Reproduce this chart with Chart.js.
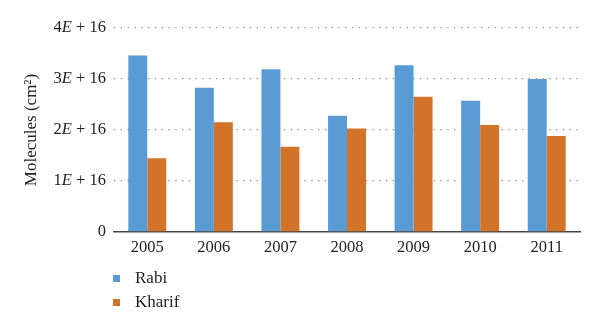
<!DOCTYPE html>
<html>
<head>
<meta charset="utf-8">
<script src="https://cdn.jsdelivr.net/npm/chart.js@4/dist/chart.umd.min.js"></script>
<style>
  html, body { margin: 0; padding: 0; background: #fff; }
  #wrap { position: relative; width: 600px; height: 328px; }
  #legend { position: absolute; left: 113px; top: 266px; font-family: "Liberation Serif", serif; font-size: 17px; color: #222; }
  #legend div { display: flex; align-items: center; height: 24px; }
  #legend span.sw { display: inline-block; width: 7px; height: 7px; margin-right: 15px; }
</style>
</head>
<body>
<div id="wrap">
  <canvas id="c" width="600" height="328"></canvas>
  <div id="legend"></div>
</div>
<script>
const categories = ["2005", "2006", "2007", "2008", "2009", "2010", "2011"];
const rabi   = [3.46e16, 2.83e16, 3.19e16, 2.28e16, 3.27e16, 2.575e16, 3.00e16];
const kharif = [1.445e16, 2.15e16, 1.67e16, 2.03e16, 2.65e16, 2.10e16, 1.88e16];
const seriesNames = ["Rabi", "Kharif"];
const yTickLabels = {0: "0", 1: "1E + 16", 2: "2E + 16", 3: "3E + 16", 4: "4E + 16"};
const colors = ["#5B9BD5", "#D3732A"];

// draws y tick labels with an italic "E"
const italicTicks = {
  id: 'italicTicks',
  afterDraw(chart) {
    const s = chart.scales.y;
    const c = chart.ctx;
    c.save();
    c.fillStyle = '#222';
    c.textBaseline = 'middle';
    const right = s.right - 8;
    s.ticks.forEach(t => {
      const txt = yTickLabels[Math.round(t.value / 1e16)];
      const y = s.getPixelForValue(t.value);
      const parts = txt.split('E');
      const fN = '16.5px "Liberation Serif"';
      const fI = 'italic 16.5px "Liberation Serif"';
      if (parts.length === 1) {
        c.font = fN; c.textAlign = 'right'; c.fillText(txt, right, y);
        return;
      }
      c.font = fN; const w0 = c.measureText(parts[0]).width; const w2 = c.measureText(parts[1]).width;
      c.font = fI; const w1 = c.measureText('E').width;
      let x = right - (w0 + w1 + w2);
      c.textAlign = 'left';
      c.font = fN; c.fillText(parts[0], x, y); x += w0;
      c.font = fI; c.fillText('E', x, y); x += w1;
      c.font = fN; c.fillText(parts[1], x, y);
    });
    c.restore();
  }
};

const ctx = document.getElementById('c').getContext('2d');
new Chart(ctx, {
  type: 'bar',
  data: {
    labels: categories,
    datasets: [
      { label: seriesNames[0], data: rabi, backgroundColor: colors[0], categoryPercentage: 0.57, barPercentage: 1.0 },
      { label: seriesNames[1], data: kharif, backgroundColor: colors[1], categoryPercentage: 0.57, barPercentage: 1.0 }
    ]
  },
  options: {
    responsive: false,
    animation: false,
    devicePixelRatio: 1,
    layout: { padding: { left: 0, right: 20, top: 28, bottom: 72 } },
    plugins: { legend: { display: false }, tooltip: { enabled: false } },
    scales: {
      x: {
        grid: { display: false, drawTicks: false },
        border: { display: true, color: '#444', width: 1.5 },
        ticks: { color: '#222', padding: 6, font: { family: 'Liberation Serif', size: 16.5 } },
        afterFit: s => { s.height = 24; }
      },
      y: {
        min: 0, max: 4e16,
        grid: {
          drawTicks: false,
          color: c => c.tick.value === 0 ? 'rgba(0,0,0,0)' : '#8f8f8f',
          lineWidth: 1.3
        },
        border: { display: false, dash: [1.3, 5.5] },
        ticks: {
          stepSize: 1e16,
          padding: 8,
          color: 'rgba(0,0,0,0)',
          font: { family: 'Liberation Serif', size: 16.5 },
          callback: v => yTickLabels[Math.round(v / 1e16)]
        },
        title: {
          display: true,
          text: 'Molecules (cm²)',
          color: '#222',
          font: { family: 'Liberation Serif', size: 17 },
          padding: { top: 21, bottom: 0 }
        },
        afterFit: s => { s.width = 114; }
      }
    }
  },
  plugins: [italicTicks]
});

const lg = document.getElementById('legend');
seriesNames.forEach((n, i) => {
  const d = document.createElement('div');
  const sw = document.createElement('span');
  sw.className = 'sw';
  sw.style.background = colors[i];
  d.appendChild(sw);
  d.appendChild(document.createTextNode(n));
  lg.appendChild(d);
});
</script>
</body>
</html>
